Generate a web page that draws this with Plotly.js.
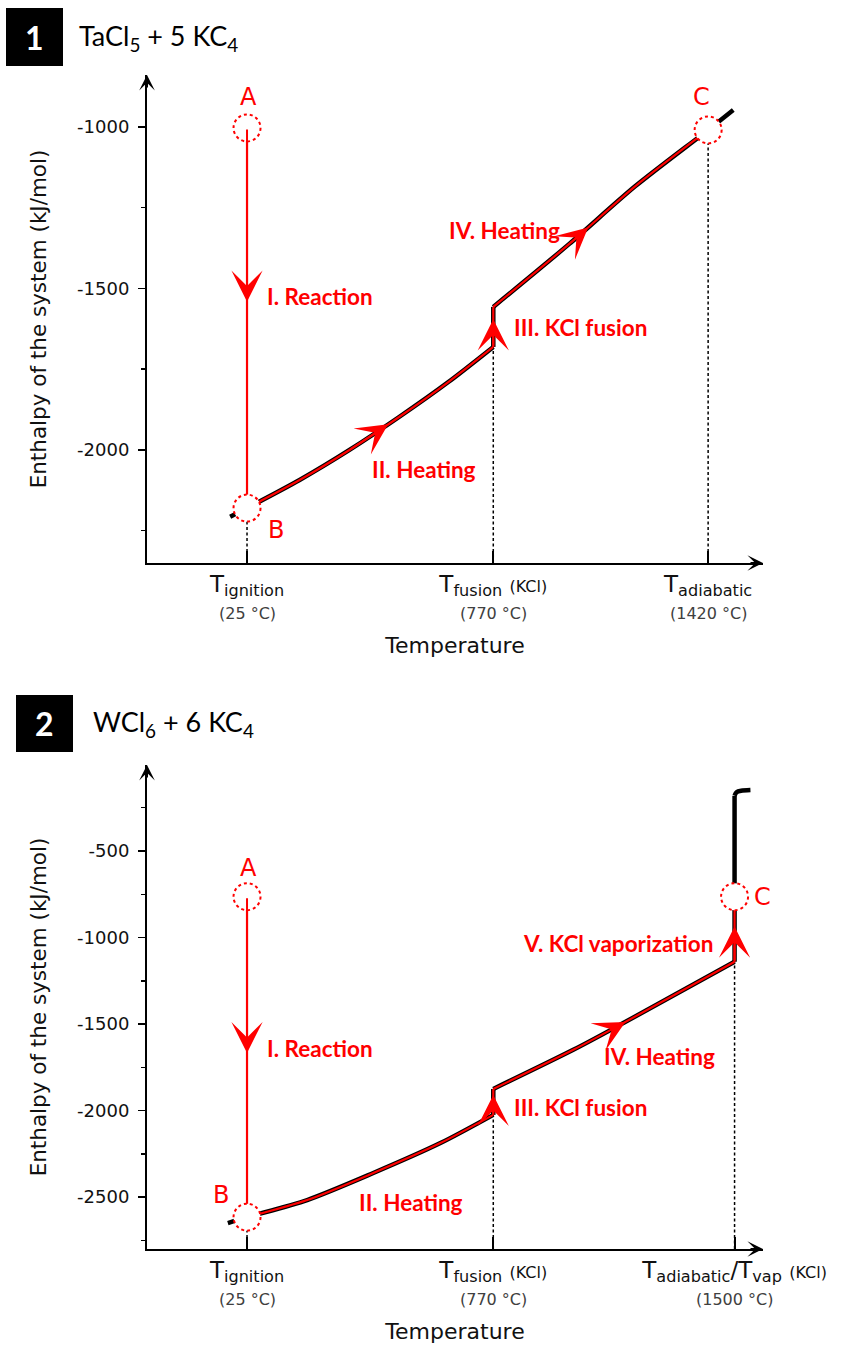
<!DOCTYPE html>
<html><head><meta charset="utf-8">
<script src="https://cdn.plot.ly/plotly-3.0.1.min.js"></script>
<style>html,body{margin:0;padding:0;background:#fff;}#chart{width:845px;height:1347px;}</style>
</head><body><div id="chart"></div>
<script>
// ================= DATA =================
// Panel 1: TaCl5 + 5 KC4  (temperature °C, enthalpy kJ/mol)
const p1Temp = [-26, 25, 184, 335, 485, 635, 770, 770, 1000, 1200, 1420, 1496];
const p1Enth = [-2207, -2180, -2093, -2000, -1898, -1789, -1681, -1557, -1362, -1183, -1009, -947];
const p1PtName = ['A', 'B', 'C'];
const p1PtTemp = [25, 25, 1420];
const p1PtEnth = [-1003, -2180, -1009];
const p1MarkTemp = [25, 770, 1420];
const p1MarkEnth = [-2180, -1681, -1009];
const p1TickMain = ['T<sub>ignition</sub>', 'T<sub>fusion</sub> (KCl)', 'T<sub>adiabatic</sub>'];
const p1TickTemp = ['(25 °C)', '(770 °C)', '(1420 °C)'];
const p1YTicks = [-2000, -1500, -1000];
const p1Stages = ['I. Reaction', 'II. Heating', 'III. KCl fusion', 'IV. Heating'];
const p1ArrowSeg = [0, 3, 6, 8];
const p1ArrowFrac = [0.457, 0.78, 0.69, 0.285];
const p1RedFrom = 1, p1RedTo = 10;   // curve indices B..C on the red path

// Panel 2: WCl6 + 6 KC4
const p2Temp = [-33, 25, 207, 407, 610, 770, 770, 1012, 1137, 1500, 1500, 1506, 1520, 1548];
const p2Enth = [-2650, -2616, -2517, -2361, -2188, -2025, -1875, -1649, -1522, -1140, -180, -160, -152, -148];
const p2PtName = ['A', 'B', 'C'];
const p2PtTemp = [25, 25, 1500];
const p2PtEnth = [-764, -2616, -764];
const p2MarkTemp = [25, 770, 1500];
const p2MarkEnth = [-2616, -2025, -1140];
const p2TickMain = ['T<sub>ignition</sub>', 'T<sub>fusion</sub> (KCl)', 'T<sub>adiabatic</sub>/T<sub>vap</sub> (KCl)'];
const p2TickTemp = ['(25 °C)', '(770 °C)', '(1500 °C)'];
const p2YTicks = [-2500, -2000, -1500, -1000, -500];
const p2Stages = ['I. Reaction', 'II. Heating', 'III. KCl fusion', 'IV. Heating', 'V. KCl vaporization'];
const p2ArrowSeg = [0, 3, 5, 8, 9];
const p2ArrowFrac = [0.488, 0.10, 0.77, 0.09, 0.54];
const p2RedFrom = 1, p2RedTo = 9;

// ================= STYLE / LAYOUT HELPERS =================
const AX = 'DejaVu Sans, Liberation Sans, Arial, sans-serif';
const LB = 'Lato, Carlito, Open Sans, sans-serif';
const RED = '#ff0000';
const W = 845, H = 1347, ML = 147, MR = 82, MT = 75, MB = 98;
const pxX = px => (px - ML) / (W - ML - MR);
const pxY = py => (H - MB - py) / (H - MT - MB);
const xRange = [-277.6, 1586];

function tickText(mains) {
  return mains.map(m => m.replace(' (KCl)', ' <span style="font-size:16px">(KCl)</span>'));
}

function redPath(temp, enth, ptT, ptH, from, to, endAtC) {
  const t = [ptT[0]].concat(temp.slice(from, to + 1));
  const h = [ptH[0]].concat(enth.slice(from, to + 1));
  if (endAtC) { t.push(ptT[2]); h.push(ptH[2]); }
  return [t, h];
}

const traces = [];
const shapes = [];
const annotations = [];

// split a path into runs: vertical steps drawn straight, the rest smoothed
function pushPath(t, h, xa, ya, color, width) {
  let run = [0];
  const flush = (vertical) => {
    if (run.length > 1) {
      traces.push({x: run.map(i => t[i]), y: run.map(i => h[i]), xaxis: xa, yaxis: ya, mode: 'lines',
        line: {color: color, width: width, shape: vertical ? 'linear' : 'spline', smoothing: 0.8},
        hoverinfo: 'skip', showlegend: false});
    }
  };
  for (let i = 1; i < t.length; i++) {
    if (t[i] === t[i - 1]) {
      flush(false);
      run = [i - 1, i];
      flush(true);
      run = [i];
    } else {
      run.push(i);
    }
  }
  flush(false);
}

function panel(sfx, temp, enth, ptName, ptT, ptH, markT, markH, tickTemp, redFrom, redTo, endAtC, arrSeg, arrFrac, yRange) {
  const xa = 'x' + sfx, ya = 'y' + sfx;
  // dashed drop lines
  markT.forEach((t, i) => {
    traces.push({x: [t, t], y: [yRange[0], markH[i]], xaxis: xa, yaxis: ya, mode: 'lines',
      line: {color: '#000', width: 1.5, dash: '3px,2.5px'}, hoverinfo: 'skip', showlegend: false});
    annotations.push({xref: xa, yref: ya + ' domain', x: t, y: 0, yshift: -50, text: tickTemp[i],
      showarrow: false, xanchor: 'center', yanchor: 'middle', font: {family: AX, size: 16, color: '#404040'}});
  });
  // black enthalpy curve
  pushPath(temp, enth, xa, ya, '#000', 4.5);
  // red process path
  const [rt, rh] = redPath(temp, enth, ptT, ptH, redFrom, redTo, endAtC);
  pushPath(rt, rh, xa, ya, RED, 2.2);
  // dotted circles at A, B, C
  ptT.forEach((t, i) => {
    shapes.push({type: 'circle', xref: xa, yref: ya, xsizemode: 'pixel', ysizemode: 'pixel',
      xanchor: t, yanchor: ptH[i], x0: -13.5, x1: 13.5, y0: -13.5, y1: 13.5,
      fillcolor: '#fff', line: {color: RED, width: 2, dash: 'dot'}, layer: 'above'});
  });
  // arrowheads along the red path
  arrSeg.forEach((s, i) => {
    const f = arrFrac[i];
    const tx = rt[s] + f * (rt[s + 1] - rt[s]);
    const ty = rh[s] + f * (rh[s + 1] - rh[s]);
    annotations.push({xref: xa, yref: ya, x: tx, y: ty, axref: xa, ayref: ya, ax: rt[s], ay: rh[s],
      text: '', showarrow: true, arrowhead: 3, arrowsize: 2.6, arrowwidth: 2, arrowcolor: RED, standoff: 0});
  });
  // axis arrowheads
  annotations.push({xref: xa + ' domain', yref: ya + ' domain', x: 1, y: 0, ax: -14, ay: 0,
    text: '', showarrow: true, arrowhead: 3, arrowsize: 1.3, arrowwidth: 2, arrowcolor: '#000', standoff: 0});
  annotations.push({xref: xa + ' domain', yref: ya + ' domain', x: 0, y: 1, ax: 0, ay: 14,
    text: '', showarrow: true, arrowhead: 3, arrowsize: 1.3, arrowwidth: 2, arrowcolor: '#000', standoff: 0});
}

panel('', p1Temp, p1Enth, p1PtName, p1PtTemp, p1PtEnth, p1MarkTemp, p1MarkEnth, p1TickTemp,
      p1RedFrom, p1RedTo, false, p1ArrowSeg, p1ArrowFrac, [-2350, -839]);
panel('2', p2Temp, p2Enth, p2PtName, p2PtTemp, p2PtEnth, p2MarkTemp, p2MarkEnth, p2TickTemp,
      p2RedFrom, p2RedTo, true, p2ArrowSeg, p2ArrowFrac, [-2800, -3]);

// stage labels
const stageFont = {family: LB, size: 22.5, color: RED, weight: 'bold'};
function lab(xa, ya, x, y, text, anchor, font) {
  annotations.push({xref: xa, yref: ya, x: x, y: y, text: text, showarrow: false,
    xanchor: anchor, yanchor: 'middle', font: font});
}
lab('x', 'y', 80, -1526, '<b>' + p1Stages[0] + '</b>', 'left', stageFont);
lab('x', 'y', 561, -2062, '<b>' + p1Stages[1] + '</b>', 'center', stageFont);
lab('x', 'y', 827, -1622, '<b>' + p1Stages[2] + '</b>', 'left', stageFont);
lab('x', 'y', 979, -1319, '<b>' + p1Stages[3] + '</b>', 'right', stageFont);
lab('x2', 'y2', 80, -1639, '<b>' + p2Stages[0] + '</b>', 'left', stageFont);
lab('x2', 'y2', 522, -2529, '<b>' + p2Stages[1] + '</b>', 'center', stageFont);
lab('x2', 'y2', 828, -1980, '<b>' + p2Stages[2] + '</b>', 'left', stageFont);
lab('x2', 'y2', 1448, -1685, '<b>' + p2Stages[3] + '</b>', 'right', stageFont);
lab('x2', 'y2', 1442, -1032, '<b>' + p2Stages[4] + '</b>', 'right', stageFont);

// point letters
const letFont = {family: AX, size: 24, color: RED};
lab('x', 'y', 28, -907, p1PtName[0], 'center', letFont);
lab('x', 'y', 113, -2248, p1PtName[1], 'center', letFont);
lab('x', 'y', 1399, -907, p1PtName[2], 'center', letFont);
lab('x2', 'y2', 28, -598, p2PtName[0], 'center', letFont);
lab('x2', 'y2', -54, -2488, p2PtName[1], 'center', letFont);
lab('x2', 'y2', 1585, -766, p2PtName[2], 'center', letFont);

// panel number boxes and titles
function header(num, x0, x1, y0, y1, tx, title) {
  shapes.push({type: 'rect', xref: 'paper', yref: 'paper', x0: pxX(x0), x1: pxX(x1), y0: pxY(y1), y1: pxY(y0),
    fillcolor: '#000', line: {width: 0}});
  annotations.push({xref: 'paper', yref: 'paper', x: pxX((x0 + x1) / 2), y: pxY((y0 + y1) / 2), text: '<b>' + num + '</b>',
    showarrow: false, xanchor: 'center', yanchor: 'middle', font: {family: LB, size: 32, color: '#fff'}});
  annotations.push({xref: 'paper', yref: 'paper', x: pxX(tx), y: pxY((y0 + y1) / 2), text: title,
    showarrow: false, xanchor: 'left', yanchor: 'middle', font: {family: LB, size: 27, color: '#000'}});
}
header('1', 6, 63, 8, 66, 77, 'TaCl<sub>5</sub> + 5 KC<sub>4</sub>');
header('2', 16, 73, 695, 752, 91, 'WCl<sub>6</sub> + 6 KC<sub>4</sub>');

function xAxis(anchor, tv, mains) {
  return {domain: [0, 1], anchor: anchor, range: xRange, tickmode: 'array', tickvals: tv,
    ticktext: tickText(mains), ticks: 'inside', ticklen: 12, tickwidth: 2, tickcolor: '#000',
    showline: true, linewidth: 2, linecolor: '#000', showgrid: false, zeroline: false, automargin: false,
    tickfont: {family: AX, size: 23, color: '#111'}, ticklabelstandoff: -1,
    title: {text: 'Temperature', font: {family: AX, size: 22, color: '#111'}, standoff: 38}, fixedrange: true};
}
function yAxis(anchor, dom, rng, tv) {
  return {domain: dom, anchor: anchor, range: rng, tickmode: 'array', tickvals: tv, ticktext: tv.map(String),
    ticks: 'outside', ticklen: 7, tickwidth: 1.5, tickcolor: '#000', ticklabelstandoff: 5,
    minor: {ticks: 'outside', ticklen: 4, tickwidth: 1.5, tickcolor: '#000', tickmode: 'linear', tick0: 0, dtick: 250, showgrid: false},
    showline: true, linewidth: 2, linecolor: '#000', showgrid: false, zeroline: false, automargin: false,
    tickfont: {family: AX, size: 18, color: '#111'},
    title: {text: 'Enthalpy of the system (kJ/mol)', font: {family: AX, size: 21.5, color: '#111'}, standoff: 25}, fixedrange: true};
}

const layout = {
  width: W, height: H, margin: {l: ML, r: MR, t: MT, b: MB},
  paper_bgcolor: '#fff', plot_bgcolor: '#fff', showlegend: false,
  font: {family: AX},
  xaxis: xAxis('y', p1MarkTemp, p1TickMain),
  yaxis: yAxis('x', [pxY(563), pxY(75)], [-2350, -839], p1YTicks),
  xaxis2: xAxis('y2', p2MarkTemp, p2TickMain),
  yaxis2: yAxis('x2', [pxY(1249), pxY(765)], [-2800, -3], p2YTicks),
  shapes: shapes, annotations: annotations
};
Plotly.newPlot('chart', traces, layout, {displayModeBar: false, staticPlot: true});
</script></body></html>
